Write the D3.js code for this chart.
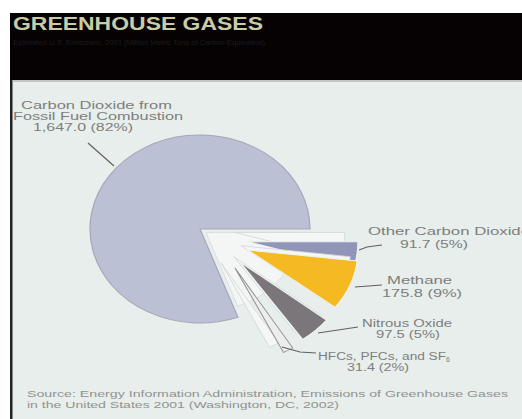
<!DOCTYPE html>
<html><head><meta charset="utf-8">
<script src="https://cdn.jsdelivr.net/npm/d3@7"></script>
<style>html,body{margin:0;padding:0;background:#fff;}svg{display:block;}</style>
</head><body>
<script>
// ---- data ----
const categories = ["Carbon Dioxide from Fossil Fuel Combustion", "Other Carbon Dioxide", "Methane", "Nitrous Oxide", "HFCs, PFCs, and SF6"];
const values = [1647.0, 91.7, 175.8, 97.5, 31.4];
const percents = [82, 5, 9, 5, 2];
const valueLabels = ["1,647.0 (82%)", "91.7 (5%)", "175.8 (9%)", "97.5 (5%)", "31.4 (2%)"];
const colors = ["#bcc0d4", "#9195b8", "#f5b922", "#7b767a", "#eceeed"];
const sourceLines = ["Source: Energy Information Administration, Emissions of Greenhouse Gases", "in the United States 2001 (Washington, DC, 2002)"];

const W = 522, H = 419;
const svg = d3.select("body").append("svg").attr("width", W).attr("height", H);
const font = "'Liberation Sans', Arial, sans-serif";

svg.append("rect").attr("width", W).attr("height", H).attr("fill", "#fff");
svg.append("rect").attr("x", 10).attr("y", 80).attr("width", W - 10).attr("height", H - 80).attr("fill", "#e8eeeb");
svg.append("rect").attr("x", 10).attr("y", 13).attr("width", W - 10).attr("height", 67).attr("fill", "#060203");
svg.append("rect").attr("x", 10).attr("y", 80).attr("width", 2.5).attr("height", H - 80).attr("fill", "#222");
svg.append("line").attr("x1", 12).attr("x2", W).attr("y1", 81).attr("y2", 81).attr("stroke", "#9a9e9c").attr("stroke-width", 1);

svg.append("text").attr("x", 13).attr("y", 29.5).text("GREENHOUSE GASES")
  .attr("font-family", font).attr("font-weight", "bold").attr("font-size", 17.5)
  .attr("textLength", 250).attr("lengthAdjust", "spacingAndGlyphs").attr("fill", "#c9cda6");
svg.append("text").attr("x", 13).attr("y", 45).text("Estimated U.S. Emissions, 2001 (Million Metric Tons of Carbon Equivalent)")
  .attr("font-family", font).attr("font-size", 7)
  .attr("textLength", 252).attr("lengthAdjust", "spacingAndGlyphs").attr("fill", "#1c1c1c");

// ---- pie ----
const cx = 200, cy = 229, R = 110, sy = 0.855;
const order = [1, 2, 3, 4, 0];
const pie = d3.pie().sort(null).value(i => values[i]).startAngle(Math.PI / 2).endAngle(Math.PI / 2 + 2 * Math.PI);
const arcsAll = pie(order);
const mainArc = arcsAll.find(a => a.data === 0);
const smallArcs = arcsAll.filter(a => a.data !== 0);
const arc = d3.arc().innerRadius(0).outerRadius(R);

const g = svg.append("g").attr("transform", `translate(${cx},${cy}) scale(1,${sy})`);
g.append("path").attr("d", arc(mainArc)).attr("fill", colors[0]).attr("stroke", "#a3a7b8").attr("stroke-width", 1.2);

// pale hollow left by the exploded slices
g.append("path")
  .attr("d", d3.arc().innerRadius(0).outerRadius(92)({startAngle: Math.PI / 2, endAngle: mainArc.startAngle}))
  .attr("transform", "translate(6,4)")
  .attr("fill", "#f3f6f5").attr("stroke", "#d3d8d7").attr("stroke-width", 0.8);

// explode offsets, tilt and 3D side shift (styling)
const explode = {1: [48, 15], 2: [48, 24.6], 3: [40, 38.6], 4: [35, 45.6]};
const tilt = {1: 0, 2: -9.5, 3: -9, 4: -6};
const side = {1: [-13, -11], 2: [-7, -5], 3: [-6, -6], 4: [-14, -6]};
const sidePath = a => {
  const e = explode[a.data], s = side[a.data], t = tilt[a.data];
  g.append("path").attr("d", arc(a))
    .attr("transform", `translate(${e[0] + s[0]},${e[1] + s[1]}) rotate(${t})`)
    .attr("fill", "#f4f7f6").attr("stroke", "#cfd5d4").attr("stroke-width", 0.8);
};
const facePath = a => {
  const e = explode[a.data], t = tilt[a.data];
  g.append("path").attr("d", arc(a))
    .attr("transform", `translate(${e[0]},${e[1]}) rotate(${t})`)
    .attr("fill", colors[a.data])
    .attr("stroke", a.data === 4 ? "#8f9090" : "#eef2f1")
    .attr("stroke-width", a.data === 4 ? 1 : 1.2);
};
const hfc = smallArcs.find(a => a.data === 4);
sidePath(hfc);
smallArcs.forEach(a => {
  if (a.data !== 4) sidePath(a);
  facePath(a);
});

// ---- labels ----
function txt(x, y, s, len, size) {
  return svg.append("text").attr("x", x).attr("y", y).text(s)
    .attr("font-family", font).attr("font-size", size || 10).attr("fill", "#7c7e7d")
    .attr("textLength", len).attr("lengthAdjust", "spacingAndGlyphs");
}
const lead = d3.line();
function leader(pts) {
  svg.append("path").attr("d", lead(pts)).attr("fill", "none").attr("stroke", "#5f6160").attr("stroke-width", 1.2);
}
txt(21, 109, "Carbon Dioxide from", 151);
txt(13, 120, "Fossil Fuel Combustion", 170);
txt(33, 131, valueLabels[0], 100);
leader([[88, 143], [114, 166]]);

txt(368, 235, categories[1], 162);
txt(400, 248, valueLabels[1], 68);
leader([[359, 250], [367, 247], [382, 245]]);

txt(387, 284, categories[2], 65);
txt(382, 297, valueLabels[2], 80);
leader([[355, 287], [382, 285]]);

txt(362, 327, categories[3], 90);
txt(376, 338, valueLabels[3], 64);
leader([[318, 333], [358, 327]]);

const t4 = svg.append("text").attr("x", 318).attr("y", 360)
  .attr("font-family", font).attr("font-size", 10).attr("fill", "#7c7e7d");
t4.append("tspan").text("HFCs, PFCs, and SF").attr("textLength", 128).attr("lengthAdjust", "spacingAndGlyphs");
t4.append("tspan").text("6").attr("font-size", 7).attr("dy", 2);
txt(347, 371, valueLabels[4], 62);
leader([[282, 347], [300, 352], [316, 353]]);

txt(27, 397, sourceLines[0], 481, 9).attr("fill", "#909291");
txt(27, 408, sourceLines[1], 312, 9).attr("fill", "#909291");
</script>
</body></html>
